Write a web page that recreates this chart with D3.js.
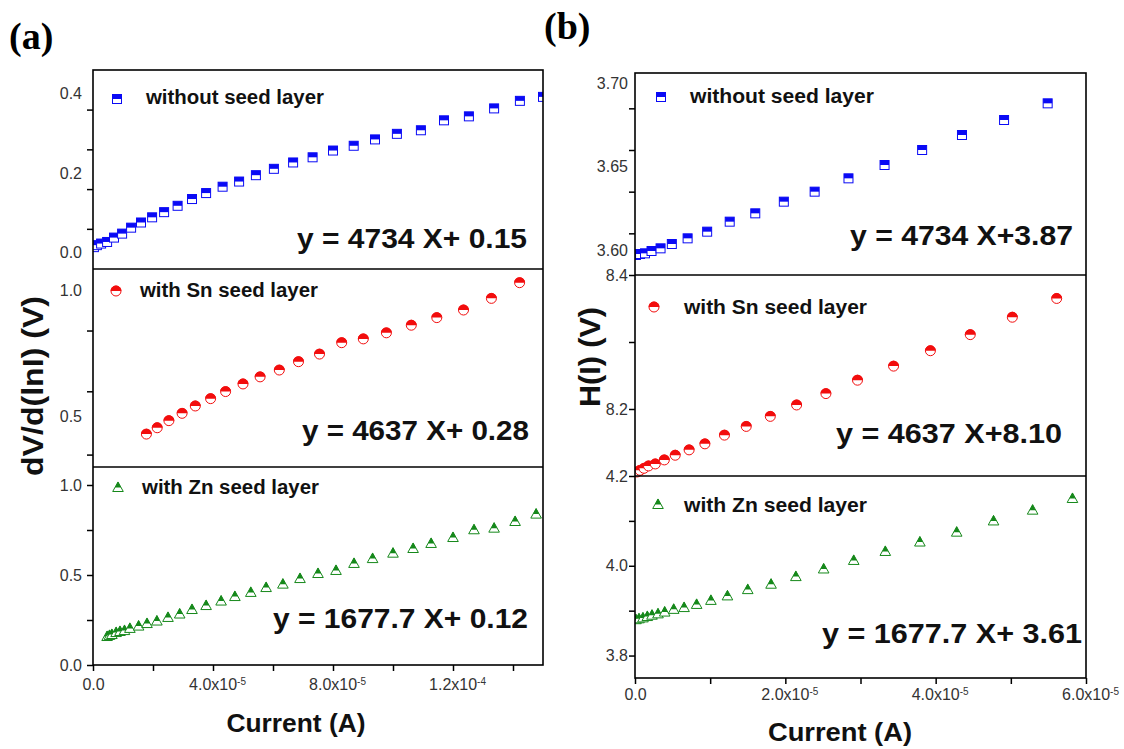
<!DOCTYPE html>
<html>
<head>
<meta charset="utf-8">
<script src="https://cdn.jsdelivr.net/npm/d3@7"></script>
<style>
  body { margin: 0; background: #fff; }
  svg { display: block; }
  text { font-family: "Liberation Sans", Arial, sans-serif; }
</style>
</head>
<body>
<svg id="chart" width="1124" height="749"></svg>
<script>
// current is kept in units of 1e-5 A

// (a) dV/d(lnI) vs current
const aNoSeedX = [0.03, 0.13, 0.27, 0.47, 0.70, 0.97, 1.27, 1.60, 1.97, 2.37, 2.82, 3.30, 3.77, 4.32, 4.87, 5.43, 6.03, 6.67, 7.32, 8.00, 8.69, 9.40, 10.13, 10.93, 11.70, 12.53, 13.37, 14.23, 15.0];
const aNoSeedY = [0.014, 0.019, 0.023, 0.027, 0.038, 0.048, 0.063, 0.076, 0.089, 0.102, 0.118, 0.135, 0.150, 0.166, 0.179, 0.195, 0.211, 0.227, 0.240, 0.257, 0.269, 0.285, 0.299, 0.308, 0.333, 0.343, 0.363, 0.382, 0.392];
const aSnX = [1.78, 2.14, 2.53, 2.97, 3.41, 3.92, 4.42, 5.00, 5.57, 6.21, 6.85, 7.55, 8.29, 9.01, 9.78, 10.61, 11.46, 12.35, 13.28, 14.22];
const aSnY = [0.431, 0.456, 0.484, 0.513, 0.542, 0.571, 0.599, 0.629, 0.657, 0.684, 0.717, 0.747, 0.792, 0.807, 0.831, 0.861, 0.891, 0.921, 0.967, 1.029];
const aZnX = [0.47, 0.55, 0.63, 0.77, 0.90, 1.05, 1.23, 1.52, 1.80, 2.13, 2.50, 2.89, 3.30, 3.77, 4.27, 4.73, 5.26, 5.77, 6.33, 6.90, 7.50, 8.10, 8.70, 9.32, 10.0, 10.67, 11.27, 12.0, 12.7, 13.37, 14.07, 14.77];
const aZnY = [0.161, 0.167, 0.172, 0.183, 0.189, 0.194, 0.206, 0.219, 0.233, 0.247, 0.267, 0.286, 0.311, 0.333, 0.358, 0.383, 0.406, 0.433, 0.452, 0.483, 0.511, 0.528, 0.567, 0.594, 0.624, 0.650, 0.678, 0.711, 0.754, 0.763, 0.800, 0.841];

// (b) H(I) vs current
const bNoSeedX = [0.013, 0.067, 0.133, 0.22, 0.34, 0.49, 0.70, 0.96, 1.26, 1.60, 1.98, 2.39, 2.84, 3.32, 3.82, 4.35, 4.91, 5.49];
const bNoSeedY = [3.597, 3.5976, 3.598, 3.5994, 3.601, 3.6036, 3.607, 3.611, 3.617, 3.622, 3.629, 3.635, 3.643, 3.651, 3.660, 3.669, 3.678, 3.688];
const bSnX = [0.027, 0.067, 0.12, 0.18, 0.27, 0.39, 0.535, 0.72, 0.93, 1.19, 1.48, 1.80, 2.15, 2.54, 2.96, 3.44, 3.93, 4.46, 5.02, 5.61];
const bSnY = [8.106, 8.1085, 8.1115, 8.115, 8.118, 8.124, 8.131, 8.139, 8.148, 8.161, 8.174, 8.189, 8.206, 8.223, 8.243, 8.264, 8.287, 8.311, 8.337, 8.365];
const bZnX = [0.013, 0.053, 0.106, 0.164, 0.226, 0.306, 0.395, 0.515, 0.653, 0.82, 1.01, 1.23, 1.50, 1.81, 2.14, 2.51, 2.91, 3.33, 3.79, 4.28, 4.77, 5.29, 5.82];
const bZnY = [3.881, 3.883, 3.885, 3.888, 3.891, 3.894, 3.898, 3.904, 3.908, 3.915, 3.924, 3.934, 3.948, 3.960, 3.977, 3.994, 4.013, 4.033, 4.054, 4.076, 4.101, 4.125, 4.151];

// axis ticks and labels
const aXTicks = [0, 2, 4, 6, 8, 10, 12, 14];
const aXLabelVals = [0, 4, 8, 12];
const aXLabels = [["0.0", ""], ["4.0x10", "-5"], ["8.0x10", "-5"], ["1.2x10", "-4"]];
const bXTicks = [0, 1, 2, 3, 4, 5, 6];
const bXLabelVals = [0, 2, 4, 6];
const bXLabels = [["0.0", ""], ["2.0x10", "-5"], ["4.0x10", "-5"], ["6.0x10", "-5"]];

const aTopLabelVals = [0, 0.2, 0.4], aTopLabels = ["0.0", "0.2", "0.4"], aTopTicks = [0.06, 0.16, 0.26, 0.36];
const aMidLabelVals = [0.5, 1.0], aMidLabels = ["0.5", "1.0"], aMidTicks = [0.35, 0.6, 0.84];
const aBotLabelVals = [0, 0.5, 1.0], aBotLabels = ["0.0", "0.5", "1.0"], aBotTicks = [0, 0.25, 0.5, 0.75, 1.0];
const bTopLabelVals = [3.60, 3.65, 3.70], bTopLabels = ["3.60", "3.65", "3.70"], bTopTicks = [3.61, 3.635, 3.66, 3.685];
const bMidLabelVals = [8.2, 8.4], bMidLabels = ["8.2", "8.4"], bMidTicks = [8.2, 8.3, 8.4];
const bBotLabelVals = [3.8, 4.0, 4.2], bBotLabels = ["3.8", "4.0", "4.2"], bBotTicks = [3.8, 3.9, 4.0, 4.1, 4.2];

const seriesNames = ["without seed layer", "with Sn seed layer", "with Zn seed layer"];
const aFits = ["y = 4734 X+ 0.15", "y = 4637 X+ 0.28", "y = 1677.7 X+ 0.12"];
const bFits = ["y = 4734 X+3.87", "y = 4637 X+8.10", "y = 1677.7 X+ 3.61"];

const BLUE = "#0a0af5", RED = "#f20d0d", GREEN = "#15881a";

const svg = d3.select("#chart");
const defs = svg.append("defs");

function drawMarker(g, shape, color, cx, cy) {
    if (shape === "square") {
        g.append("rect").attr("x", cx - 4.5).attr("y", cy - 4.5).attr("width", 9).attr("height", 9)
            .attr("fill", "#fff").attr("stroke", color).attr("stroke-width", 1);
        g.append("rect").attr("x", cx - 4.5).attr("y", cy - 4.5).attr("width", 9).attr("height", 4.5)
            .attr("fill", color);
    } else if (shape === "circle") {
        g.append("circle").attr("cx", cx).attr("cy", cy).attr("r", 5)
            .attr("fill", "#fff").attr("stroke", color).attr("stroke-width", 1);
        g.append("path").attr("d", `M${cx - 5.4},${cy} A5.4,5.4 0 0 1 ${cx + 5.4},${cy} Z`)
            .attr("fill", color);
    } else {
        g.append("path").attr("d", `M${cx},${cy - 5} L${cx + 5.3},${cy + 4.5} L${cx - 5.3},${cy + 4.5} Z`)
            .attr("fill", "#fff").attr("stroke", color).attr("stroke-width", 1);
        g.append("path").attr("d", `M${cx},${cy - 5.5} L${cx + 3},${cy + 0.5} L${cx - 3},${cy + 0.5} Z`)
            .attr("fill", color);
    }
}

// layout of the two stacked figures
const figA = {
    left: 93, right: 543, xDomain: [0, 15],
    xTicks: aXTicks, xLabelVals: aXLabelVals, xLabels: aXLabels, xPad: 14,
    yPad: 11, fits: aFits,
    title: { text: "Current (A)", x: 296, y: 732, w: 139 },
    yTitle: { text: "dV/d(lnI) (V)", x: 32, y: 386, w: 180 },
    tag: { text: "(a)", x: 9, y: 49 },
    panels: [
        { top: 70, bottom: 269, dom: [-0.041, 0.4596], lv: aTopLabelVals, lb: aTopLabels, tk: aTopTicks,
          xs: aNoSeedX, ys: aNoSeedY, shape: "square", color: BLUE,
          leg: [117, 99, 146, 104, 178], fit: [297, 248, 230] },
        { top: 269, bottom: 467, dom: [0.301, 1.083], lv: aMidLabelVals, lb: aMidLabels, tk: aMidTicks,
          xs: aSnX, ys: aSnY, shape: "circle", color: RED,
          leg: [116, 291, 140, 297, 178], fit: [302, 440, 227] },
        { top: 467, bottom: 665, dom: [0, 1.1], lv: aBotLabelVals, lb: aBotLabels, tk: aBotTicks,
          xs: aZnX, ys: aZnY, shape: "triangle", color: GREEN,
          leg: [118, 487, 142, 494, 177], fit: [273, 628, 255] }
    ]
};
const figB = {
    left: 635, right: 1086, xDomain: [0, 6],
    xTicks: bXTicks, xLabelVals: bXLabelVals, xLabels: bXLabels, xPad: 11,
    yPad: 7, fits: bFits,
    title: { text: "Current (A)", x: 840, y: 741, w: 144 },
    yTitle: { text: "H(I) (V)", x: 589, y: 357, w: 100 },
    tag: { text: "(b)", x: 544, y: 39 },
    panels: [
        { top: 73, bottom: 275, dom: [3.585, 3.7062], lv: bTopLabelVals, lb: bTopLabels, tk: bTopTicks,
          xs: bNoSeedX, ys: bNoSeedY, shape: "square", color: BLUE,
          leg: [661, 97, 690, 103, 184], fit: [850, 245, 223] },
        { top: 275, bottom: 476, dom: [8.1, 8.4], lv: bMidLabelVals, lb: bMidLabels, tk: bMidTicks,
          xs: bSnX, ys: bSnY, shape: "circle", color: RED,
          leg: [654, 307, 684, 314, 183], fit: [836, 443, 226] },
        { top: 476, bottom: 678, dom: [3.75, 4.2], lv: bBotLabelVals, lb: bBotLabels, tk: bBotTicks,
          xs: bZnX, ys: bZnY, shape: "triangle", color: GREEN,
          leg: [658, 504, 684, 512, 183], fit: [822, 643, 260] }
    ]
};

function styleAxis(sel) {
    sel.select(".domain").remove();
    sel.selectAll(".tick line").attr("stroke", "#000").attr("stroke-width", 1.5);
    sel.selectAll(".tick text").attr("fill", "#333").style("font-size", "16px");
}

function drawFigure(fig, idx) {
    const x = d3.scaleLinear().domain(fig.xDomain).range([fig.left, fig.right]);
    const top = fig.panels[0].top, bottom = fig.panels[fig.panels.length - 1].bottom;

    fig.panels.forEach((p, i) => {
        const y = d3.scaleLinear().domain(p.dom).range([p.bottom, p.top]);

        // y tick marks
        svg.append("g").attr("transform", `translate(${fig.left},0)`)
            .call(d3.axisLeft(y).tickValues(p.tk).tickSize(6).tickFormat(""))
            .call(styleAxis);
        // y tick labels
        svg.append("g").attr("transform", `translate(${fig.left},0)`)
            .call(d3.axisLeft(y).tickValues(p.lv).tickSize(0).tickPadding(fig.yPad)
                .tickFormat((d, k) => p.lb[k]))
            .call(styleAxis);

        const clipId = `clip${idx}${i}`;
        defs.append("clipPath").attr("id", clipId).append("rect")
            .attr("x", fig.left).attr("y", p.top - 6)
            .attr("width", fig.right - fig.left).attr("height", p.bottom - p.top + 12);

        const g = svg.append("g").attr("clip-path", `url(#${clipId})`);
        d3.zip(p.xs, p.ys).forEach(([vx, vy]) => drawMarker(g, p.shape, p.color, x(vx), y(vy)));

        // legend
        drawMarker(svg.append("g"), p.shape, p.color, p.leg[0], p.leg[1]);
        svg.append("text").attr("x", p.leg[2]).attr("y", p.leg[3])
            .attr("textLength", p.leg[4]).attr("lengthAdjust", "spacingAndGlyphs")
            .style("font-size", "20px").style("font-weight", "bold").attr("fill", "#111")
            .text(seriesNames[i]);

        // fit equation
        svg.append("text").attr("x", p.fit[0]).attr("y", p.fit[1])
            .attr("textLength", p.fit[2]).attr("lengthAdjust", "spacingAndGlyphs")
            .style("font-size", "28px").style("font-weight", "bold").attr("fill", "#111")
            .text(fig.fits[i]);
    });

    // x axis ticks and labels
    svg.append("g").attr("transform", `translate(0,${bottom})`)
        .call(d3.axisBottom(x).tickValues(fig.xTicks).tickSize(6).tickFormat(""))
        .call(styleAxis);
    const xl = svg.append("g").attr("transform", `translate(0,${bottom})`)
        .call(d3.axisBottom(x).tickValues(fig.xLabelVals).tickSize(0).tickPadding(fig.xPad)
            .tickFormat(""))
        .call(styleAxis);
    xl.selectAll(".tick text").each(function (d, k) {
        const t = d3.select(this);
        const [m, e] = fig.xLabels[k];
        t.append("tspan").text(m);
        if (e) {
            t.append("tspan").attr("dy", "-0.55em").style("font-size", "10px").text(e);
            t.attr("dx", "4px");
        }
    });

    // frame and separators
    svg.append("rect").attr("x", fig.left).attr("y", top)
        .attr("width", fig.right - fig.left).attr("height", bottom - top)
        .attr("fill", "none").attr("stroke", "#000").attr("stroke-width", 1.6);
    fig.panels.slice(1).forEach(p => {
        svg.append("line").attr("x1", fig.left).attr("x2", fig.right)
            .attr("y1", p.top).attr("y2", p.top)
            .attr("stroke", "#000").attr("stroke-width", 1.6);
    });

    // titles
    svg.append("text").attr("x", fig.title.x).attr("y", fig.title.y)
        .attr("text-anchor", "middle")
        .attr("textLength", fig.title.w).attr("lengthAdjust", "spacingAndGlyphs")
        .style("font-size", "26px").style("font-weight", "bold").attr("fill", "#111")
        .text(fig.title.text);
    svg.append("text")
        .attr("transform", `translate(${fig.yTitle.x},${fig.yTitle.y}) rotate(-90)`)
        .attr("text-anchor", "middle").attr("dominant-baseline", "central")
        .attr("textLength", fig.yTitle.w).attr("lengthAdjust", "spacingAndGlyphs")
        .style("font-size", "30px").style("font-weight", "bold").attr("fill", "#111")
        .text(fig.yTitle.text);
    svg.append("text").attr("x", fig.tag.x).attr("y", fig.tag.y)
        .style("font-family", "'Liberation Serif', 'Times New Roman', serif")
        .style("font-size", "38px").style("font-weight", "bold").attr("fill", "#000")
        .text(fig.tag.text);
}

drawFigure(figA, 0);
drawFigure(figB, 1);
</script>
</body>
</html>
